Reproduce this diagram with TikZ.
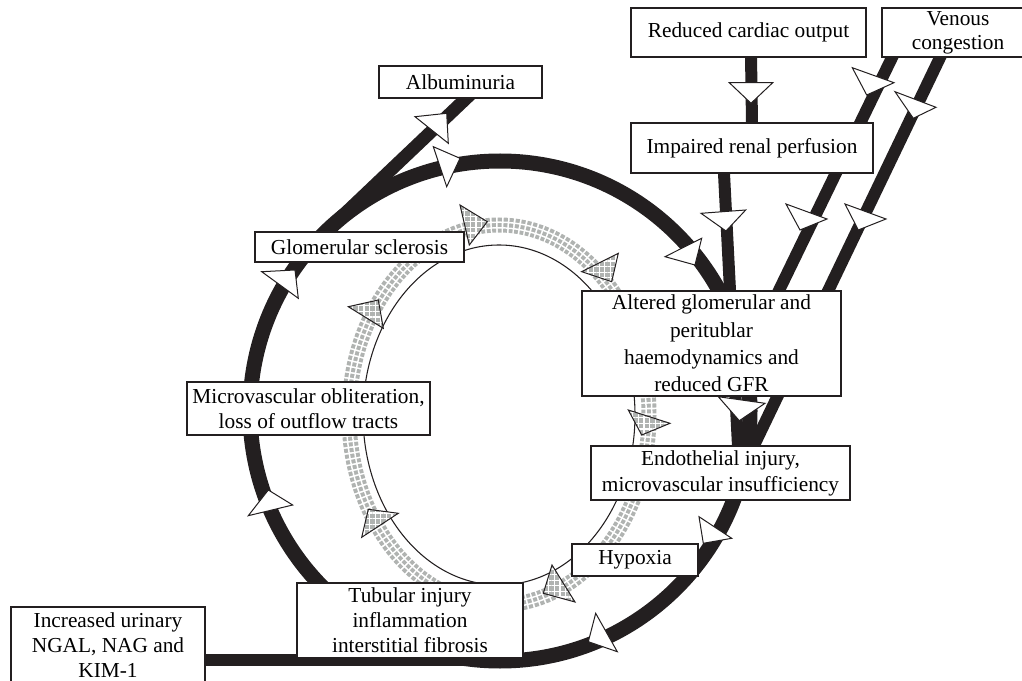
\documentclass[tikz,border=0pt]{standalone}
\usepackage{fontspec}
\setmainfont{Liberation Serif}
\usetikzlibrary{patterns.meta,backgrounds}
\definecolor{ink}{RGB}{35,31,32}
\definecolor{bandgrey}{RGB}{176,179,177}
\newcommand{\gtri}[1]{%
  \fill[bandgrey] #1 -- cycle;
  \fill[pattern={Hatch[angle=0,distance=4.2pt,line width=1pt]}, pattern color=white] #1 -- cycle;
  \draw[ink, line width=0.75pt, line join=miter] #1 -- cycle;}
\newcommand{\wtri}[1]{%
  \draw[ink, fill=white, line width=0.75pt, line join=miter] #1 -- cycle;}
\begin{document}
\begin{tikzpicture}[x=0.75pt,y=-0.75pt,
  box/.style={draw=ink, line width=0.8pt, fill=white, inner sep=0pt, align=center,
    font=\fontsize{16}{19.5}\selectfont},
  sz/.style 2 args={minimum width={#1*0.75pt}, minimum height={#2*0.75pt}},
  loopline/.style={draw=ink, line width=11.25pt},
  flow/.style={draw=ink, line width=9pt, shorten <=-6pt, shorten >=-6pt},
 ]
\useasboundingbox (0,0) rectangle (1022,681);
\clip (0,0) rectangle (1022,681);

% boxes
\node[box, sz={235}{49}] (rco) at (748.5,32.5) {Reduced cardiac output};
\node[box, sz={152}{49}, font=\fontsize{16}{18}\selectfont] (ven) at (958,32.5) {Venous\\congestion};
\node[box, sz={242}{50}] (irp) at (752,148) {Impaired renal perfusion};
\node[box, sz={163}{32}] (alb) at (460.5,82) {Albuminuria};
\node[box, sz={209}{30}] (glo) at (359.5,247) {Glomerular sclerosis};
\node[box, sz={259}{105}, font=\fontsize{16}{20.5}\selectfont] (alt) at (711.5,343.5)
  {Altered glomerular and\\peritublar\\haemodynamics and\\reduced GFR};
\node[box, sz={259}{54}] (endo) at (720.5,473) {Endothelial injury,\\microvascular insufficiency};
\node[box, sz={126}{32}] (hyp) at (635,560) {Hypoxia};
\node[box, sz={226}{75}, font=\fontsize{16}{18.8}\selectfont] (tub) at (410,620.5)
  {Tubular injury\\inflammation\\interstitial fibrosis};
\node[box, sz={243}{53}, font=\fontsize{16}{18.8}\selectfont] (mic) at (308.5,408.5)
  {Microvascular obliteration,\\loss of outflow tracts};
\node[box, sz={194}{76}, font=\fontsize{16}{19}\selectfont] (inc) at (108,645) {Increased urinary\\NGAL, NAG and\\KIM-1};

\begin{scope}[on background layer]
  \clip (0,0) rectangle (1022,681);
  % grey checkered band
  \draw[bandgrey, line width=11.25pt, dash pattern=on 3pt off 1.3pt]
    (499,415) ellipse [x radius=150, y radius=190];
  \draw[white, line width=1.1pt] (499,415) ellipse [x radius=147.2, y radius=187.2];
  \draw[white, line width=1.1pt] (499,415) ellipse [x radius=152.8, y radius=192.8];
  % thin inner loop
  \draw[ink, line width=0.8pt] (499,415) ellipse [x radius=136, y radius=170];
  % thick outer loop
  \draw[loopline] (500,411) circle [radius=250];
  \coordinate (tan) at (323.2,234.2);
  \coordinate (bot) at (500,660);
  % connectors
  \draw[flow, line width=9.75pt] ([xshift=4.1pt]alb.south) -- (tan);
  \draw[flow] (inc.east |- bot) -- (bot);
  \draw[flow] ([xshift=1.9pt]rco.south) -- (irp.north);
  \draw[flow] ([xshift=-21pt]irp.south) -- ([xshift=13.1pt]endo.north);
  \draw[flow] ([xshift=-49.5pt]ven.south) -- ([xshift=50.6pt]alt.north);
  \draw[flow] ([xshift=-13.5pt]ven.south) -- ([xshift=25.1pt]endo.north);
  % grey arrowheads
  \gtri{(460,205) -- (487.3,221.7) -- (469.3,245)}
  \gtri{(581.7,271.7) -- (618.3,253.3) -- (611.7,281.7)}
  \gtri{(348.3,306.7) -- (378.3,300) -- (383.3,328.3)}
  \gtri{(368.3,509.3) -- (398.3,513.3) -- (361.7,537.3)}
  \gtri{(628.3,410) -- (670,423.3) -- (641.7,435)}
  \gtri{(552,565) -- (575,602) -- (543.3,593.3)}
  % white arrowheads
  \wtri{(729.3,82.7) -- (772.7,82.7) -- (751,103.3)}
  \wtri{(701,213.3) -- (745.7,210) -- (726,231)}
  \wtri{(852.3,67.7) -- (894,82.7) -- (866.7,95)}
  \wtri{(786,204) -- (827,219) -- (800,230)}
  \wtri{(895,91.7) -- (936,107.3) -- (913.3,118.3)}
  \wtri{(845,204) -- (886,219) -- (858.3,230)}
  \wtri{(665,256.7) -- (701.7,238.3) -- (695,265)}
  \wtri{(433.3,146.7) -- (460,158.3) -- (446.7,186.7)}
  \wtri{(415,116.7) -- (446.7,113.3) -- (448.3,143.3)}
  \wtri{(261.7,271.7) -- (295,270) -- (298.3,298.3)}
  \wtri{(248.3,515.7) -- (268.3,490) -- (292.7,505)}
  \wtri{(718.3,396.7) -- (765,403.3) -- (739.3,420.7)}
  \wtri{(699,516.7) -- (731.7,538.3) -- (703.3,543.3)}
  \wtri{(595.7,613.3) -- (588.3,641.7) -- (617.3,651.7)}
\end{scope}
\end{tikzpicture}
\end{document}
